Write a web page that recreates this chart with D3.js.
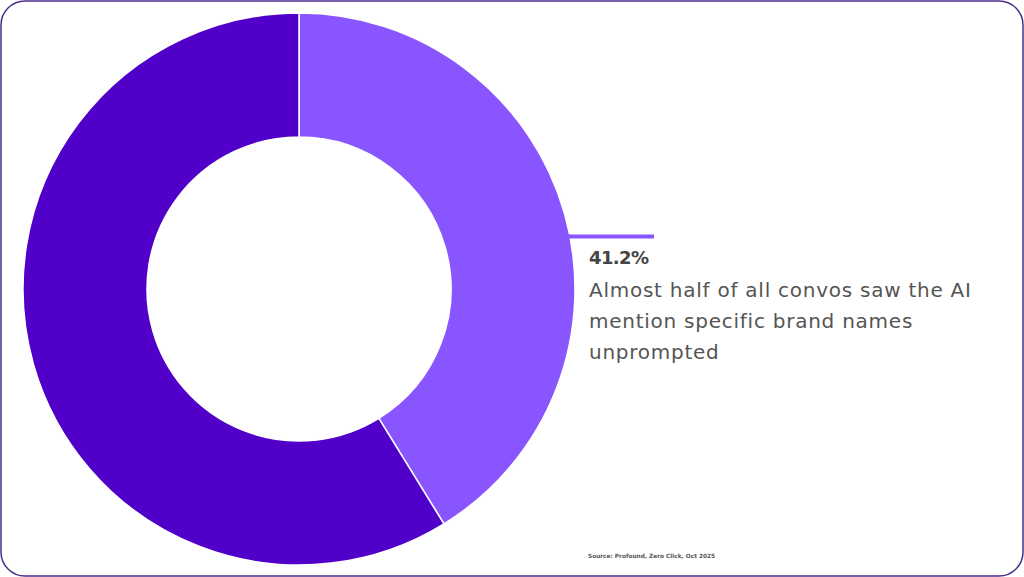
<!DOCTYPE html>
<html lang="en">
<head>
<meta charset="UTF-8">
<title>Brand mentions</title>
<script src="https://d3js.org/d3.v7.min.js"></script>
<style>
  html, body { margin: 0; padding: 0; background: #fff; }
  svg { display: block; font-family: "DejaVu Sans", "Noto Sans", sans-serif; }
</style>
</head>
<body>
<script>
// slice data
var labels = ["Mentioned brands unprompted", "Other"];
var values = [41.2, 58.8];
var colors = ["#8855ff", "#5000c8"];

var headline = "41.2%";
var noteLines = ["Almost half of all convos saw the AI", "mention specific brand names", "unprompted"];
var source = "Source: Profound, Zero Click, Oct 2025";

var width = 1024, height = 577;
var cx = 299, cy = 289, outerR = 276, innerR = 152;

var svg = d3.select("body").append("svg")
  .attr("width", width)
  .attr("height", height);

// card frame
svg.append("rect")
  .attr("x", 1).attr("y", 1)
  .attr("width", width - 2).attr("height", height - 2)
  .attr("rx", 24).attr("ry", 24)
  .attr("fill", "#fff")
  .attr("stroke", "#4b2d8a")
  .attr("stroke-width", 1.5);

var pie = d3.pie().sort(null).value(function(d) { return d; });
var arc = d3.arc().innerRadius(innerR).outerRadius(outerR);
var arcs = pie(values);

var g = svg.append("g")
  .attr("transform", "translate(" + cx + "," + cy + ")");

g.selectAll("path.slice")
  .data(arcs)
  .enter()
  .append("path")
  .attr("class", "slice")
  .attr("d", arc)
  .attr("fill", function(d, i) { return colors[i]; })
  .attr("stroke", "#fff")
  .attr("stroke-width", 1.5);

// leader line from outer edge of first slice (a bit past its middle)
var a = arcs[0].endAngle * 0.533;
var lx = Math.sin(a) * outerR, ly = -Math.cos(a) * outerR;
g.append("line")
  .attr("x1", lx - 2).attr("y1", ly)
  .attr("x2", lx + 84).attr("y2", ly)
  .attr("stroke", colors[0])
  .attr("stroke-width", 4);

var tx = cx + lx + 19;
svg.append("text")
  .attr("x", tx).attr("y", cy + ly + 27)
  .attr("font-size", 18).attr("font-weight", 700)
  .attr("letter-spacing", -0.6)
  .attr("fill", "#444")
  .text(headline);

svg.append("g").selectAll("text")
  .data(noteLines)
  .enter()
  .append("text")
  .attr("x", tx)
  .attr("y", function(d, i) { return cy + ly + 60 + i * 31; })
  .attr("font-size", 20)
  .attr("letter-spacing", 0.75)
  .attr("fill", "#555")
  .text(function(d) { return d; });

svg.append("text")
  .attr("x", tx - 1).attr("y", 558)
  .attr("font-size", 5.8).attr("font-weight", 700)
  .attr("fill", "#555")
  .text(source);
</script>
</body>
</html>
